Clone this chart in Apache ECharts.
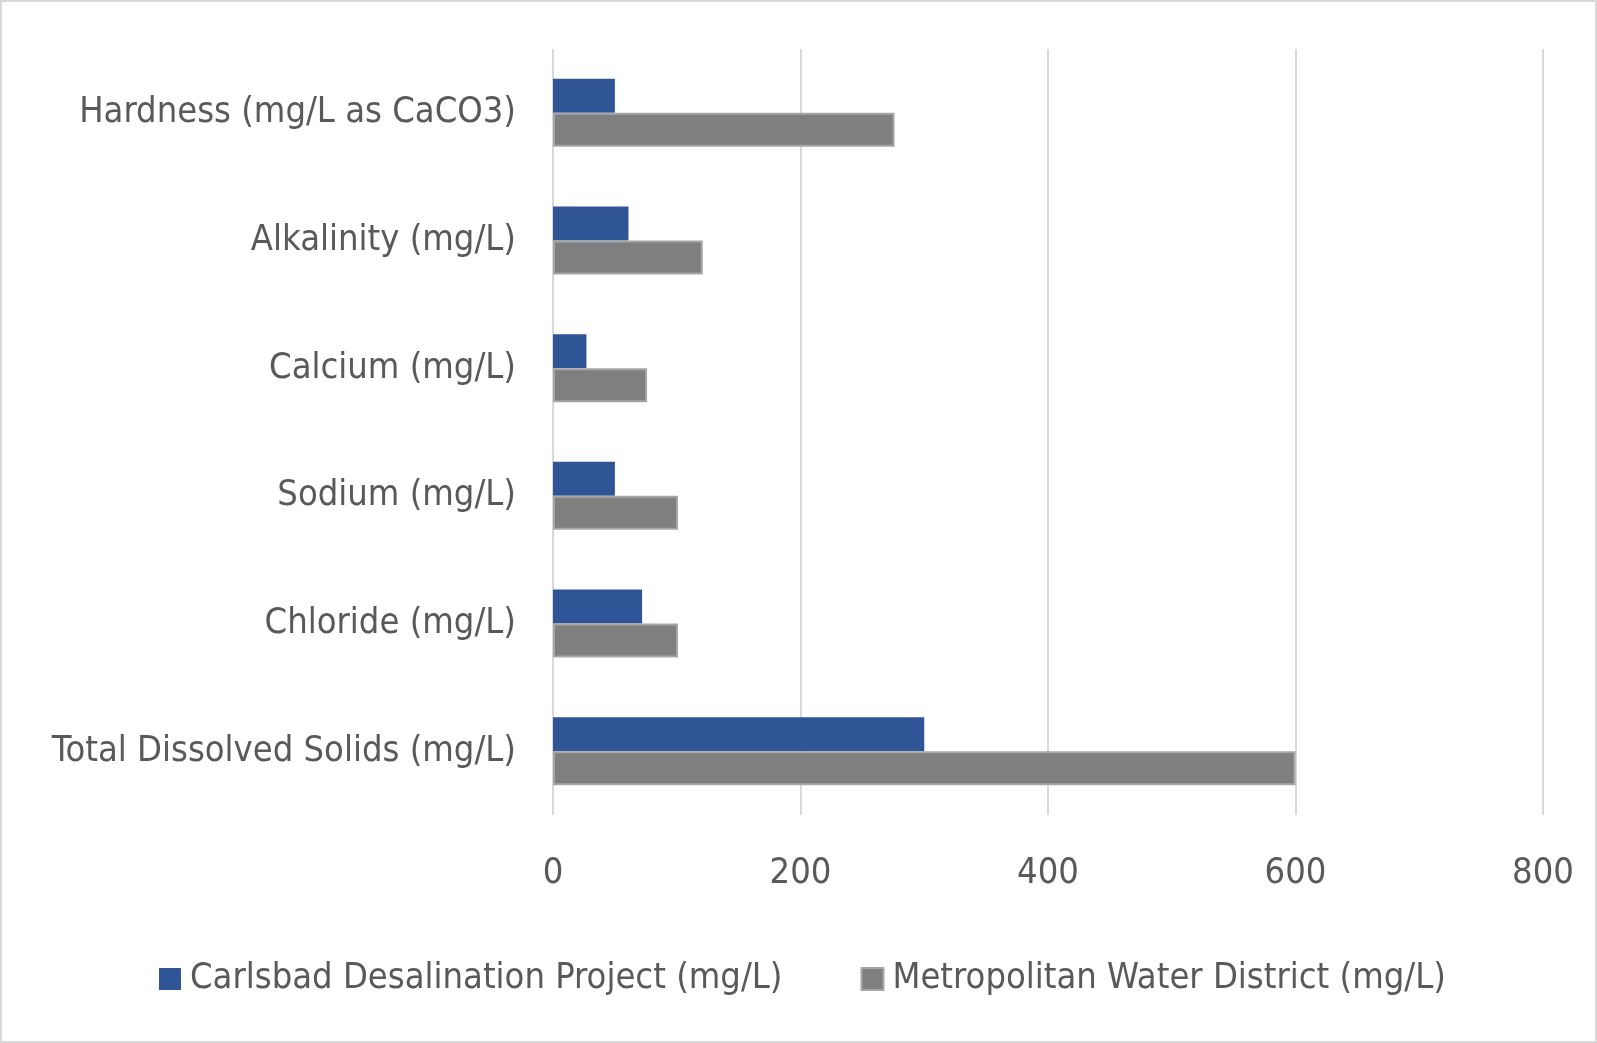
<!DOCTYPE html>
<html><head><meta charset="utf-8">
<script src="https://cdn.jsdelivr.net/npm/echarts@6/dist/echarts.min.js"></script>
<style>html,body{margin:0;padding:0;background:#fff}#c{width:1597px;height:1043px;box-sizing:border-box;border:2px solid #d9d9d9}</style>
</head><body><div id="c"></div>
<script>
const categories = ['Hardness (mg/L as CaCO3)','Alkalinity (mg/L)','Calcium (mg/L)','Sodium (mg/L)','Chloride (mg/L)','Total Dissolved Solids (mg/L)'];
const carlsbad = [50, 61, 27, 50, 72, 300];
const metropolitan = [276, 121, 76, 101, 101, 600];
const seriesNames = ['Carlsbad Desalination Project (mg/L)','Metropolitan Water District (mg/L)'];
const FONT = "'Liberation Sans Narrow', 'DejaVu Sans Condensed', sans-serif";
const chart = echarts.init(document.getElementById('c'));
chart.setOption({
  animation:false,
  textStyle:{fontFamily:FONT},
  grid:{left:551,right:52,top:47,bottom:226,containLabel:false},
  legend:{left:152,top:954,icon:'rect',itemWidth:22,itemHeight:22,itemGap:78,
    textStyle:{fontSize:36,color:'#595959',fontFamily:FONT,padding:[0,0,0,4]},
    data:seriesNames},
  xAxis:{type:'value',min:0,max:800,interval:200,
    axisLine:{show:false},axisTick:{show:false},
    splitLine:{lineStyle:{color:'#d9d9d9',width:2}},
    axisLabel:{fontSize:36,color:'#595959',margin:41,fontFamily:FONT}},
  yAxis:{type:'category',inverse:true,data:categories,
    axisLine:{show:false},axisTick:{show:false},
    axisLabel:{fontSize:36,color:'#595959',margin:37,fontFamily:FONT}},
  series:[
    {name:seriesNames[0],type:'bar',data:carlsbad,barWidth:34,barGap:'0%',
      itemStyle:{color:'#2f5597'}},
    {name:seriesNames[1],type:'bar',data:metropolitan,barWidth:34,barGap:'0%',
      itemStyle:{color:'#7f7f7f',borderColor:'#a6a6a6',borderWidth:2}}
  ]
});
</script></body></html>
